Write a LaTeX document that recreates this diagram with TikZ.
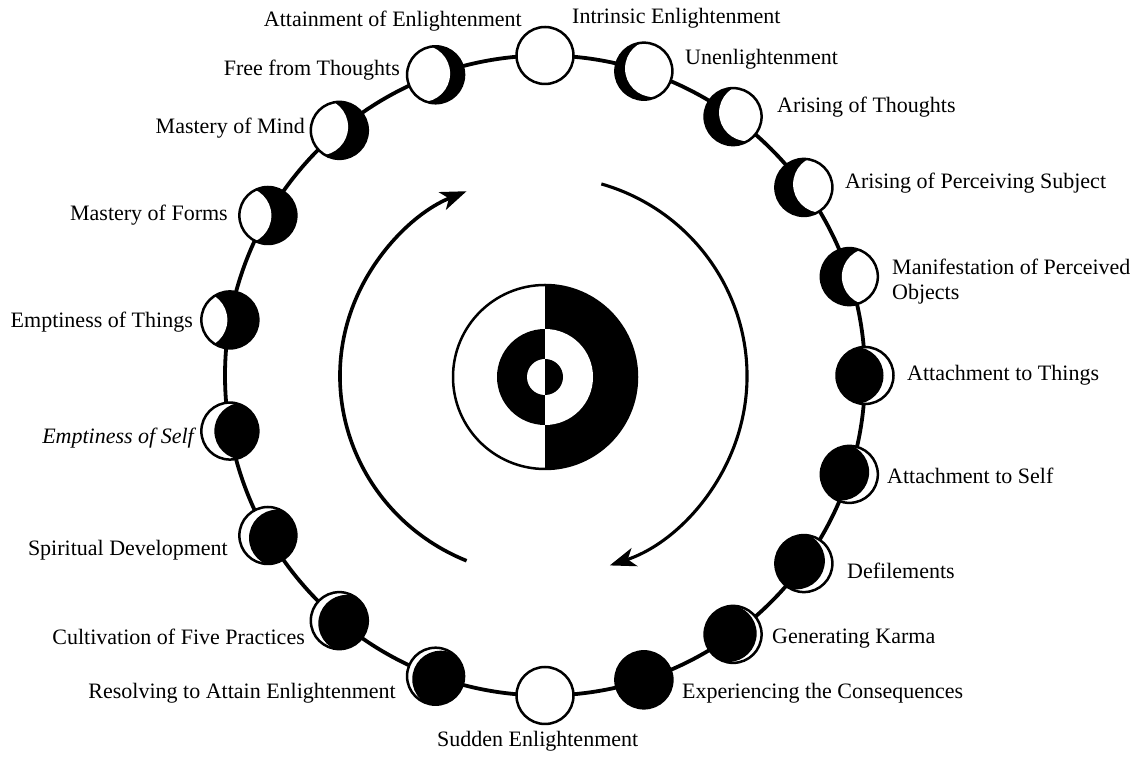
\documentclass[tikz,border=0pt]{standalone}
\usepackage{fontspec}
\setmainfont{Liberation Serif}
\usetikzlibrary{calc,arrows.meta}
\begin{document}
\begin{tikzpicture}[x=1bp,y=1bp,
  lbl/.style={inner sep=0pt, font=\fontsize{22bp}{25bp}\selectfont},
  moon/.style={circle, draw=black, line width=2.5bp, minimum size=57bp, inner sep=0pt, fill=white},
  phase/.style n args={3}{path picture={
      \fill[#1] (path picture bounding box.center) circle (31);
      \fill[#2] ($(path picture bounding box.center)+(#3)$) circle (28.5);}},
  ring/.style={line width=3.8bp},
  flow/.style={line width=3.6bp, -{Stealth[length=26bp,width=19bp,inset=7bp]}},
]
\useasboundingbox (0,0) rectangle (1144,759);
\coordinate (C) at (545,383.5);
\draw[ring] (C) circle (320);

% moons
\node[moon] (n00) at ($(C)+(90:320)$) {};
\node[moon, phase={black}{white}{15:10}] (n01) at ($(C)+(72:320)$) {};
\node[moon, phase={black}{white}{15:15}] (n02) at ($(C)+(54:320)$) {};
\node[moon, phase={black}{white}{10:18}] (n03) at ($(C)+(36:320)$) {};
\node[moon, phase={black}{white}{0:21}] (n04) at ($(C)+(18:320)$) {};
\node[moon, phase={white}{black}{180:10}] (n05) at ($(C)+(0:320)$) {};
\node[moon, phase={white}{black}{165:9}] (n06) at ($(C)+(-18:320)$) {};
\node[moon, phase={white}{black}{160:8}] (n07) at ($(C)+(-36:320)$) {};
\node[moon, phase={white}{black}{170:5}] (n08) at ($(C)+(-54:320)$) {};
\node[moon, fill=black] (n09) at ($(C)+(-72:320)$) {};
\node[moon] (n10) at ($(C)+(-90:320)$) {};
\node[moon, phase={white}{black}{-30:6}] (n11) at ($(C)+(250:320)$) {};
\node[moon, phase={white}{black}{-20:8}] (n12) at ($(C)+(230:320)$) {};
\node[moon, phase={white}{black}{-15:10}] (n13) at ($(C)+(210:320)$) {};
\node[moon, phase={white}{black}{0:13}] (n14) at ($(C)+(190:320)$) {};
\node[moon, phase={black}{white}{180:31}] (n15) at ($(C)+(170:320)$) {};
\node[moon, phase={black}{white}{180:25}] (n16) at ($(C)+(150:320)$) {};
\node[moon, phase={black}{white}{170:20}] (n17) at ($(C)+(130:320)$) {};
\node[moon, phase={black}{white}{175:14}] (n18) at ($(C)+(110:320)$) {};

% labels
\node[lbl, anchor=base east] (t00a) at (522,732) {Attainment of Enlightenment};
\node[lbl, anchor=base west] (t00b) at (572,735) {Intrinsic Enlightenment};
\node[lbl, anchor=base west] (t01) at (685,694) {Unenlightenment};
\node[lbl, anchor=base west] (t02) at (777,646) {Arising of Thoughts};
\node[lbl, anchor=base west] (t03) at (845,570) {Arising of Perceiving Subject};
\node[lbl, anchor=west, align=left] (t04) at (892,477) {Manifestation of Perceived\\Objects};
\node[lbl, anchor=base west] (t05) at (907,378) {Attachment to Things};
\node[lbl, anchor=base west] (t06) at (887,275) {Attachment to Self};
\node[lbl, anchor=base west] (t07) at (847,180) {Defilements};
\node[lbl, anchor=base west] (t08) at (772,115) {Generating Karma};
\node[lbl, anchor=base west] (t09) at (682,60) {Experiencing the Consequences};
\node[lbl, anchor=base west] (t10) at (437,12) {Sudden Enlightenment};
\node[lbl, anchor=base east] (t11) at (396,60) {Resolving to Attain Enlightenment};
\node[lbl, anchor=base east] (t12) at (305,114) {Cultivation of Five Practices};
\node[lbl, anchor=base east] (t13) at (228,203) {Spiritual Development};
\node[lbl, anchor=base east, font=\fontsize{22bp}{25bp}\selectfont\itshape] (t14) at (194,315) {Emptiness of Self};
\node[lbl, anchor=base east] (t15) at (193,431) {Emptiness of Things};
\node[lbl, anchor=base east] (t16) at (228,538) {Mastery of Forms};
\node[lbl, anchor=base east] (t17) at (305,625) {Mastery of Mind};
\node[lbl, anchor=base east] (t18) at (400,683) {Free from Thoughts};

% central symbol
\coordinate (S) at (545,382);
\fill[black] ($(S)+(0,92)$) arc[start angle=90, end angle=-90, radius=92] -- cycle;
\draw[line width=2.5bp] (S) circle (92);
\fill[black] ($(S)+(0,48)$) arc[start angle=90, end angle=270, radius=48] -- cycle;
\fill[white] ($(S)+(0,48)$) arc[start angle=90, end angle=-90, radius=48] -- cycle;
\fill[white] ($(S)+(0,18)$) arc[start angle=90, end angle=270, radius=18] -- cycle;
\fill[black] ($(S)+(0,18)$) arc[start angle=90, end angle=-90, radius=18] -- cycle;

% arrows
\coordinate (A) at (545,383);
\coordinate (la) at ($(A)+({205*cos(247.5)},{200*sin(247.5)})$);
\coordinate (ra) at ($(A)+({202*cos(73.8)},{200*sin(73.8)})$);
\draw[flow] (la) arc[start angle=247.5, end angle=112.5, x radius=205, y radius=200];
\draw[flow, line width=3.1bp] (ra) arc[start angle=73.8, end angle=-71.3, x radius=202, y radius=200];
\end{tikzpicture}
\end{document}
